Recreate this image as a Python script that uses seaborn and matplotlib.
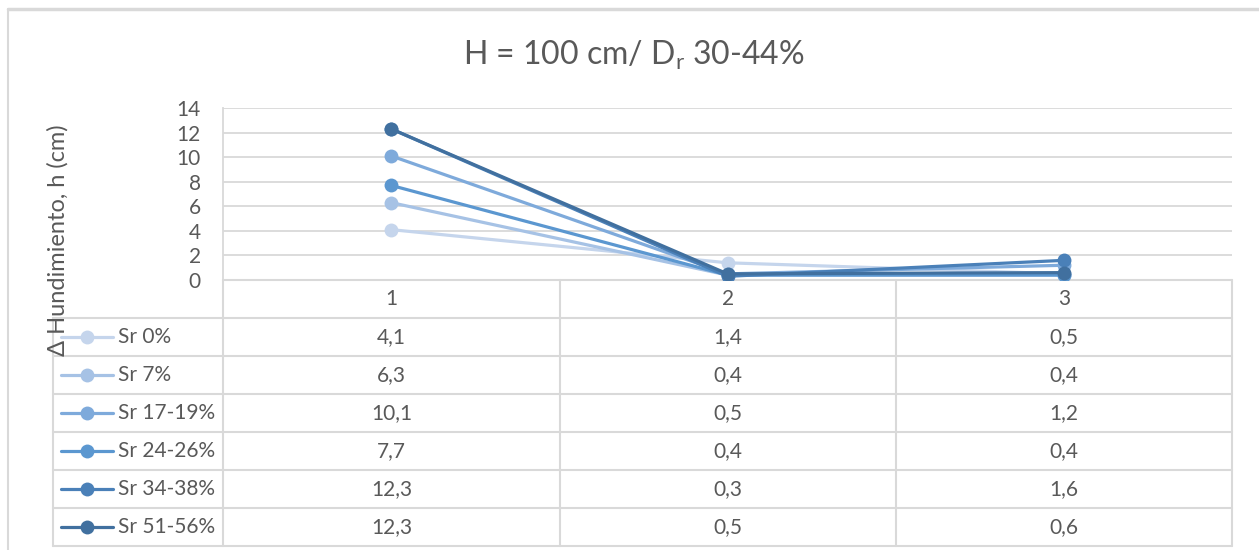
import matplotlib
matplotlib.use("Agg")
import matplotlib.pyplot as plt
import seaborn as sns
import pandas as pd
from matplotlib.lines import Line2D

# data
categories = [1, 2, 3]
series_names = ["Sr 0%", "Sr 7%", "Sr 17-19%", "Sr 24-26%", "Sr 34-38%", "Sr 51-56%"]
sr_0 = [4.1, 1.4, 0.5]
sr_7 = [6.3, 0.4, 0.4]
sr_17_19 = [10.1, 0.5, 1.2]
sr_24_26 = [7.7, 0.4, 0.4]
sr_34_38 = [12.3, 0.3, 1.6]
sr_51_56 = [12.3, 0.5, 0.6]
y_ticks = [0, 2, 4, 6, 8, 10, 12, 14]

colors = ["#C5D5EC", "#A6C2E5", "#7EAADB", "#5B97D0", "#4A80B8", "#41709F"]
text_color = "#595959"
grid_color = "#D9D9D9"

all_series = [sr_0, sr_7, sr_17_19, sr_24_26, sr_34_38, sr_51_56]
df = pd.DataFrame({
    "x": [c for s in all_series for c in categories],
    "val": [v for s in all_series for v in s],
    "series": [n for n, s in zip(series_names, all_series) for _ in s],
})

sns.set_style("white")
plt.rcParams["font.family"] = ["Lato", "DejaVu Sans"]
plt.rcParams["mathtext.default"] = "regular"

W, H = 1259, 550
fig = plt.figure(figsize=(W / 100, H / 100), dpi=100)
fs = 15

# main plot area (pixel box 223..1232 x 108..280)
ax = fig.add_axes([223 / W, 1 - 280 / H, (1232 - 223) / W, (280 - 108) / H])
sns.lineplot(data=df, x="x", y="val", hue="series", hue_order=series_names,
             palette=colors, marker="o", markersize=10, markeredgewidth=0,
             linewidth=2.3, legend=False, ax=ax, zorder=3)
ax.set_xlim(0.5, 3.5)
ax.set_ylim(0, 14)
ax.set_yticks(y_ticks)
ax.set_xticks([])
ax.tick_params(axis="y", length=0, labelsize=fs, labelcolor=text_color, pad=16)
ax.grid(axis="y", color=grid_color, linewidth=1.3)
ax.set_axisbelow(True)
ax.set_xlabel("")
ax.set_ylabel("")
for side in ["top", "right", "bottom"]:
    ax.spines[side].set_visible(False)
ax.spines["left"].set_color(grid_color)
ax.spines["left"].set_linewidth(1.3)
ax.patch.set_alpha(0)

# overlay in pixel coordinates for frame and data table
ov = fig.add_axes([0, 0, 1, 1], zorder=-1)
ov.set_xlim(0, W)
ov.set_ylim(H, 0)
ov.axis("off")

def seg(x0, y0, x1, y1, lw=1.5):
    ov.add_line(Line2D([x0, x1], [y0, y1], color=grid_color, linewidth=lw))

# chart frame
seg(8, 9, W, 9, lw=2.5)
seg(8, 9, 8, H)

# table
row_h = 38
top = 280
col_edges = [223, 560, 896, 1232]
seg(col_edges[0], top, col_edges[-1], top)
for i in range(1, 8):
    y = top + i * row_h
    seg(53, y, 1232, y)
seg(53, top + row_h, 53, top + 7 * row_h)
seg(col_edges[0], top, col_edges[0], top + 7 * row_h)
for xe in col_edges[1:]:
    seg(xe, top, xe, top + 7 * row_h)

for j, c in enumerate(categories):
    xc = (col_edges[j] + col_edges[j + 1]) / 2
    ov.text(xc, top + row_h / 2, str(c), ha="center", va="center",
            fontsize=fs, color=text_color)

for i, (name, vals, col) in enumerate(zip(series_names, all_series, colors)):
    yc = top + (i + 1.5) * row_h
    ov.add_line(Line2D([61, 113], [yc, yc], color=col, linewidth=2.3))
    ov.plot([87], [yc], marker="o", markersize=10, markeredgewidth=0, color=col)
    ov.text(118, yc, name, ha="left", va="center", fontsize=fs, color=text_color)
    for j, v in enumerate(vals):
        xc = (col_edges[j] + col_edges[j + 1]) / 2
        ov.text(xc, yc, f"{v:.1f}".replace(".", ","), ha="center", va="center",
                fontsize=fs, color=text_color)

# title and axis label
fig.text(634 / W, 1 - 55 / H, "H = 100 cm/ D$_r$ 30-44%", ha="center", va="center",
         fontsize=23, color=text_color)
fig.text(58 / W, 1 - 240 / H, "Δ Hundimiento, h (cm)", ha="center", va="center",
         rotation=90, fontsize=17, color=text_color)

fig.savefig("out.png", dpi=100, facecolor="white")
